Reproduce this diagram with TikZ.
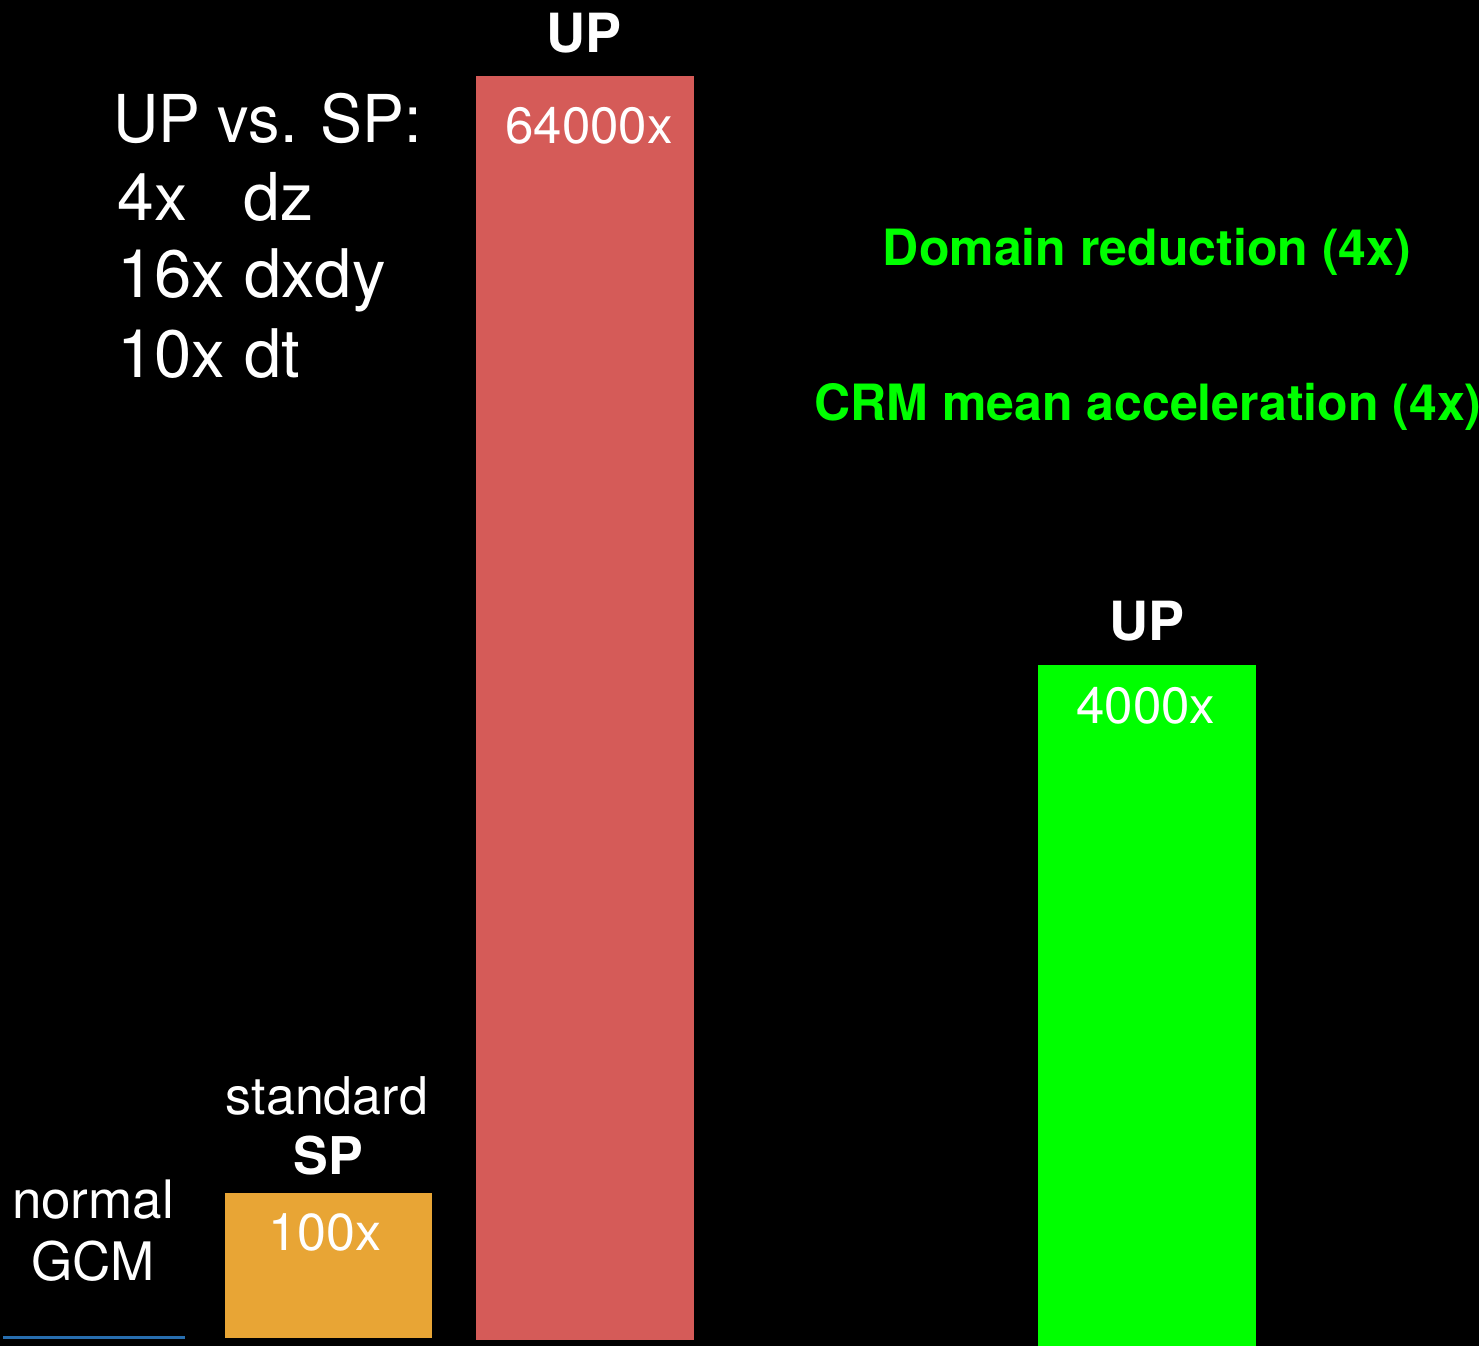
\documentclass[tikz,border=0pt]{standalone}
\usepackage{fontspec}
\setmainfont{TeX Gyre Heros}
\definecolor{barred}{RGB}{213,91,88}
\definecolor{barorange}{RGB}{232,165,53}
\definecolor{bargreen}{RGB}{0,255,0}
\definecolor{lineblue}{RGB}{40,110,175}
\begin{document}
\begin{tikzpicture}[x=0.5pt,y=-0.5pt,
  lbl/.style={text=white, inner sep=0pt, anchor=base, font=\fontsize{#1}{#1}\selectfont},
  blbl/.style={text=white, inner sep=0pt, anchor=base, font=\fontsize{#1}{#1}\selectfont\bfseries},
  glbl/.style={text=bargreen, inner sep=0pt, anchor=base, font=\fontsize{#1}{#1}\selectfont\bfseries}]
\fill[black] (0,0) rectangle (1479,1346);
\useasboundingbox (0,0) rectangle (1479,1346);
% bars
\fill[barorange] (225,1193) rectangle (432,1338);
\fill[barred] (476,76) rectangle (694,1340);
\fill[bargreen] (1038,665) rectangle (1256,1346);
\draw[lineblue, line width=1.5pt] (3,1337) -- (185,1337);
% left block
\node[lbl=33pt, anchor=base west] (t1) at (113,142) {\scalebox{0.95}[1]{UP vs. SP:}};
\node[lbl=33pt, anchor=base west] (t2a) at (117,220) {4x};
\node[lbl=33pt, anchor=base west] (t2b) at (243,220) {dz};
\node[lbl=33.5pt, anchor=base west] (t3) at (117,297) {16x dxdy};
\node[lbl=33.5pt, anchor=base west] (t4) at (117,377) {10x dt};
% red bar labels
\node[blbl=27pt] (up1) at (584,52) {UP};
\node[lbl=25.5pt] (v1) at (589,143) {64000x};
% green texts
\node[glbl=25pt] (dom) at (1147,265) {Domain reduction (4x)};
\node[glbl=25pt, anchor=base west] (crm) at (814,420) {CRM mean acceleration (4x)};
\node[blbl=27pt] (up2) at (1147,640) {UP};
\node[lbl=25.5pt] (v2) at (1146,723) {4000x};
% SP
\node[lbl=26pt] (std) at (327,1114) {standard};
\node[blbl=26pt] (sp) at (328,1174) {SP};
\node[lbl=26pt] (v3) at (325,1250) {100x};
% GCM
\node[lbl=26.5pt] (nrm) at (93,1218) {normal};
\node[lbl=26.5pt] (gcm) at (93,1280) {GCM};
\end{tikzpicture}
\end{document}
